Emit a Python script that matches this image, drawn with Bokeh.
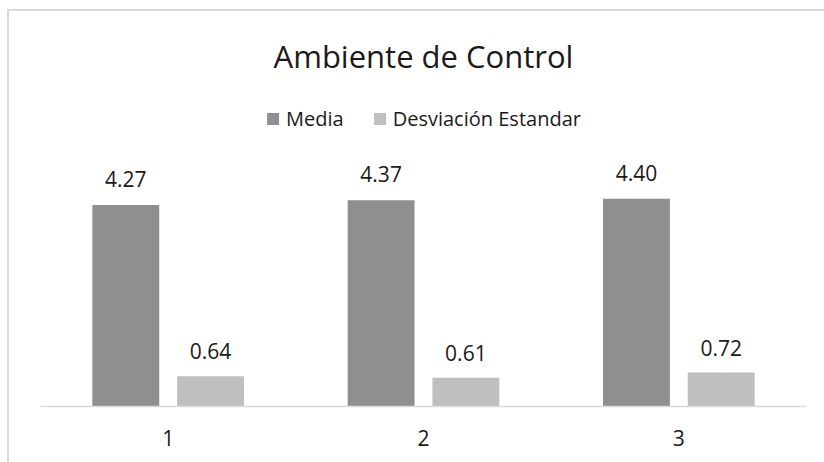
from bokeh.plotting import figure
from bokeh.models import ColumnDataSource, Range1d, FactorRange, InlineStyleSheet
from bokeh.transform import dodge
from bokeh.core.properties import value
from bokeh.embed import file_html
from bokeh.resources import INLINE

# ---- data ----
categories = ["1", "2", "3"]
media = [4.27, 4.37, 4.40]
desviacion = [0.64, 0.61, 0.72]
series_names = ["Media", "Desviación Estandar"]
title_text = "Ambiente de Control"

media_labels = [f"{v:.2f}" for v in media]
desv_labels = [f"{v:.2f}" for v in desviacion]

src = ColumnDataSource(dict(cat=categories, media=media, desv=desviacion,
                            media_lbl=media_labels, desv_lbl=desv_labels))

FONT = "Open Sans"
TXT = "#1a1a1a"
C_MEDIA = "#8f8f8f"
C_DESV = "#bfbfbf"

p = figure(width=824, height=462, x_range=FactorRange(*categories),
           y_range=Range1d(0, 6.483), output_backend="svg",
           toolbar_location=None, title=title_text,
           min_border_left=40, min_border_right=18,
           min_border_bottom=56, min_border_top=100)

p.title.align = "center"
p.title.text_font = FONT
p.title.text_font_size = "31px"
p.title.text_font_style = "normal"
p.title.text_color = TXT
p.title.standoff = 47

off = 0.166
w = 0.262
p.vbar(x=dodge("cat", -off, range=p.x_range), top="media", width=w, bottom=0,
       source=src, fill_color=C_MEDIA, line_color=None, legend_label=series_names[0])
p.vbar(x=dodge("cat", off, range=p.x_range), top="desv", width=w, bottom=0,
       source=src, fill_color=C_DESV, line_color=None, legend_label=series_names[1])

p.text(x=dodge("cat", -off, range=p.x_range), y="media", text="media_lbl", source=src,
       text_align="center", text_baseline="alphabetic", y_offset=-26,
       text_font=value(FONT), text_font_size="21px", text_color=TXT)
p.text(x=dodge("cat", off, range=p.x_range), y="desv", text="desv_lbl", source=src,
       text_align="center", text_baseline="alphabetic", y_offset=-25,
       text_font=value(FONT), text_font_size="21px", text_color=TXT)

p.xaxis.axis_line_color = "#d9d9d9"
p.xaxis.axis_line_width = 1.5
p.xaxis.major_tick_line_color = None
p.xaxis.minor_tick_line_color = None
p.xaxis.major_label_text_font = FONT
p.xaxis.major_label_text_font_size = "21px"
p.xaxis.major_label_text_color = TXT
p.xaxis.major_label_standoff = 17
p.yaxis.visible = False
p.xgrid.grid_line_color = None
p.ygrid.grid_line_color = None
p.outline_line_color = None

lg = p.legend[0]
lg.orientation = "horizontal"
lg.location = "top_center"
lg.glyph_width = 15
lg.glyph_height = 15
lg.label_standoff = 6
lg.spacing = 28
lg.padding = 0
lg.margin = 5
lg.border_line_alpha = 0
lg.background_fill_alpha = 0
lg.label_text_font = FONT
lg.label_text_font_size = "20px"
lg.label_text_color = TXT

# chart-area border (runs off the right and bottom edges, like the reference crop)
p.stylesheets = [InlineStyleSheet(css="""
:host { position: relative; }
:host::after {
  content: ''; position: absolute; left: 7px; top: 9px; right: 0; bottom: 0;
  border-left: 2px solid #d9d9d9; border-top: 2px solid #d9d9d9;
  pointer-events: none;
}
""")]

open("out.html", "w").write(file_html(p, INLINE))
